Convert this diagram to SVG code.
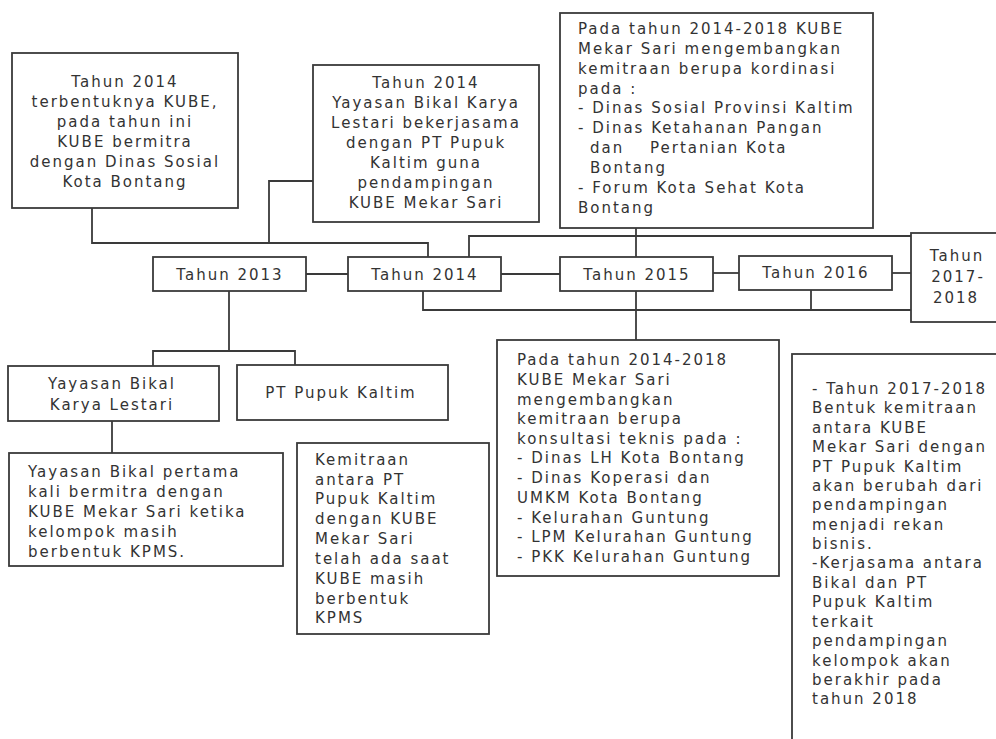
<svg xmlns="http://www.w3.org/2000/svg" width="996" height="739" viewBox="0 0 996 739">
<style>
.box{fill:#fff;stroke:#3a3a3a;stroke-width:1.8}
.ln{stroke:#3a3a3a;stroke-width:1.8;fill:none}
text{font-family:"DejaVu Sans","Verdana",sans-serif;font-size:15px;fill:#333;letter-spacing:2px}
.c{text-anchor:middle}
</style>
<rect width="996" height="739" fill="#fff"/>
<g id="connectors">
<polyline class="ln" points="92,208 92,243 428,243 428,257"/>
<polyline class="ln" points="313,181 269,181 269,243"/>
<polyline class="ln" points="469,257 469,236 911,236"/>
<line class="ln" x1="636" y1="228" x2="636" y2="257"/>
<line class="ln" x1="306" y1="274" x2="348" y2="274"/>
<line class="ln" x1="501" y1="274" x2="560" y2="274"/>
<line class="ln" x1="713" y1="273" x2="739" y2="273"/>
<line class="ln" x1="892" y1="273" x2="914" y2="273"/>
<line class="ln" x1="229" y1="291" x2="229" y2="351"/>
<polyline class="ln" points="153,366 153,351 295,351 295,365"/>
<line class="ln" x1="112" y1="421" x2="112" y2="453"/>
<polyline class="ln" points="423,291 423,310 911,310"/>
<line class="ln" x1="811" y1="290" x2="811" y2="310"/>
<line class="ln" x1="636" y1="291" x2="636" y2="340"/>
</g>
<g id="n-2014-kube">
<rect class="box" x="12" y="53" width="226" height="155"/>
<text class="c" x="125" y="87">Tahun 2014</text>
<text class="c" x="125" y="107">terbentuknya KUBE,</text>
<text class="c" x="125" y="127">pada tahun ini</text>
<text class="c" x="125" y="147">KUBE bermitra</text>
<text class="c" x="125" y="167">dengan Dinas Sosial</text>
<text class="c" x="125" y="187">Kota Bontang</text>
</g>
<g id="n-2014-bikal">
<rect class="box" x="313" y="65" width="226" height="157"/>
<text class="c" x="426" y="88">Tahun 2014</text>
<text class="c" x="426" y="108">Yayasan Bikal Karya</text>
<text class="c" x="426" y="128">Lestari bekerjasama</text>
<text class="c" x="426" y="148">dengan PT Pupuk</text>
<text class="c" x="426" y="168">Kaltim guna</text>
<text class="c" x="426" y="188">pendampingan</text>
<text class="c" x="426" y="208">KUBE Mekar Sari</text>
</g>
<g id="n-kordinasi">
<rect class="box" x="560" y="13" width="313" height="215"/>
<text x="578" y="34">Pada tahun 2014-2018 KUBE</text>
<text x="578" y="54">Mekar Sari mengembangkan</text>
<text x="578" y="74">kemitraan berupa kordinasi</text>
<text x="578" y="94">pada :</text>
<text x="578" y="113">- Dinas Sosial Provinsi Kaltim</text>
<text x="578" y="133">- Dinas Ketahanan Pangan</text>
<text y="153"><tspan x="590">dan</tspan><tspan x="650">Pertanian Kota</tspan></text>
<text x="590" y="173">Bontang</text>
<text x="578" y="193">- Forum Kota Sehat Kota</text>
<text x="578" y="213">Bontang</text>
</g>
<g id="n-2013">
<rect class="box" x="153" y="257" width="153" height="34"/>
<text class="c" x="230" y="280">Tahun 2013</text>
</g>
<g id="n-2014">
<rect class="box" x="348" y="257" width="153" height="34"/>
<text class="c" x="425" y="280">Tahun 2014</text>
</g>
<g id="n-2015">
<rect class="box" x="560" y="257" width="153" height="34"/>
<text class="c" x="637" y="280">Tahun 2015</text>
</g>
<g id="n-2016">
<rect class="box" x="739" y="256" width="153" height="34"/>
<text class="c" x="816" y="278">Tahun 2016</text>
</g>
<g id="n-2017">
<rect class="box" x="911" y="233" width="100" height="89"/>
<text class="c" x="957" y="261">Tahun</text>
<text class="c" x="958" y="282">2017-</text>
<text class="c" x="956" y="303">2018</text>
</g>
<g id="n-yayasan">
<rect class="box" x="8" y="366" width="211" height="55"/>
<text class="c" x="112" y="389">Yayasan Bikal</text>
<text class="c" x="112" y="410">Karya Lestari</text>
</g>
<g id="n-pupuk">
<rect class="box" x="237" y="365" width="211" height="55"/>
<text class="c" x="341" y="398">PT Pupuk Kaltim</text>
</g>
<g id="n-bikal-pertama">
<rect class="box" x="9" y="453" width="274" height="113"/>
<text x="28" y="477">Yayasan Bikal pertama</text>
<text x="28" y="497">kali bermitra dengan</text>
<text x="28" y="517">KUBE Mekar Sari ketika</text>
<text x="28" y="537">kelompok masih</text>
<text x="28" y="557">berbentuk KPMS.</text>
</g>
<g id="n-kemitraan">
<rect class="box" x="297" y="443" width="192" height="191"/>
<text x="315" y="465">Kemitraan</text>
<text x="315" y="485">antara PT</text>
<text x="315" y="504">Pupuk Kaltim</text>
<text x="315" y="524">dengan KUBE</text>
<text x="315" y="544">Mekar Sari</text>
<text x="315" y="564">telah ada saat</text>
<text x="315" y="584">KUBE masih</text>
<text x="315" y="604">berbentuk</text>
<text x="315" y="623">KPMS</text>
</g>
<g id="n-konsultasi">
<rect class="box" x="497" y="340" width="282" height="236"/>
<text x="517" y="365">Pada tahun 2014-2018</text>
<text x="517" y="385">KUBE Mekar Sari</text>
<text x="517" y="405">mengembangkan</text>
<text x="517" y="424">kemitraan berupa</text>
<text x="517" y="444">konsultasi teknis pada :</text>
<text x="517" y="463">- Dinas LH Kota Bontang</text>
<text x="517" y="483">- Dinas Koperasi dan</text>
<text x="517" y="503">UMKM Kota Bontang</text>
<text x="517" y="523">- Kelurahan Guntung</text>
<text x="517" y="542">- LPM Kelurahan Guntung</text>
<text x="517" y="562">- PKK Kelurahan Guntung</text>
</g>
<g id="n-2017-detail">
<rect class="box" x="792" y="354" width="220" height="400"/>
<text x="812" y="394">- Tahun 2017-2018</text>
<text x="812" y="413">Bentuk kemitraan</text>
<text x="812" y="433">antara KUBE</text>
<text x="812" y="452">Mekar Sari dengan</text>
<text x="812" y="472">PT Pupuk Kaltim</text>
<text x="812" y="491">akan berubah dari</text>
<text x="812" y="510">pendampingan</text>
<text x="812" y="530">menjadi rekan</text>
<text x="812" y="549">bisnis.</text>
<text x="812" y="568">-Kerjasama antara</text>
<text x="812" y="588">Bikal dan PT</text>
<text x="812" y="607">Pupuk Kaltim</text>
<text x="812" y="627">terkait</text>
<text x="812" y="646">pendampingan</text>
<text x="812" y="666">kelompok akan</text>
<text x="812" y="685">berakhir pada</text>
<text x="812" y="704">tahun 2018</text>
</g>
</svg>
